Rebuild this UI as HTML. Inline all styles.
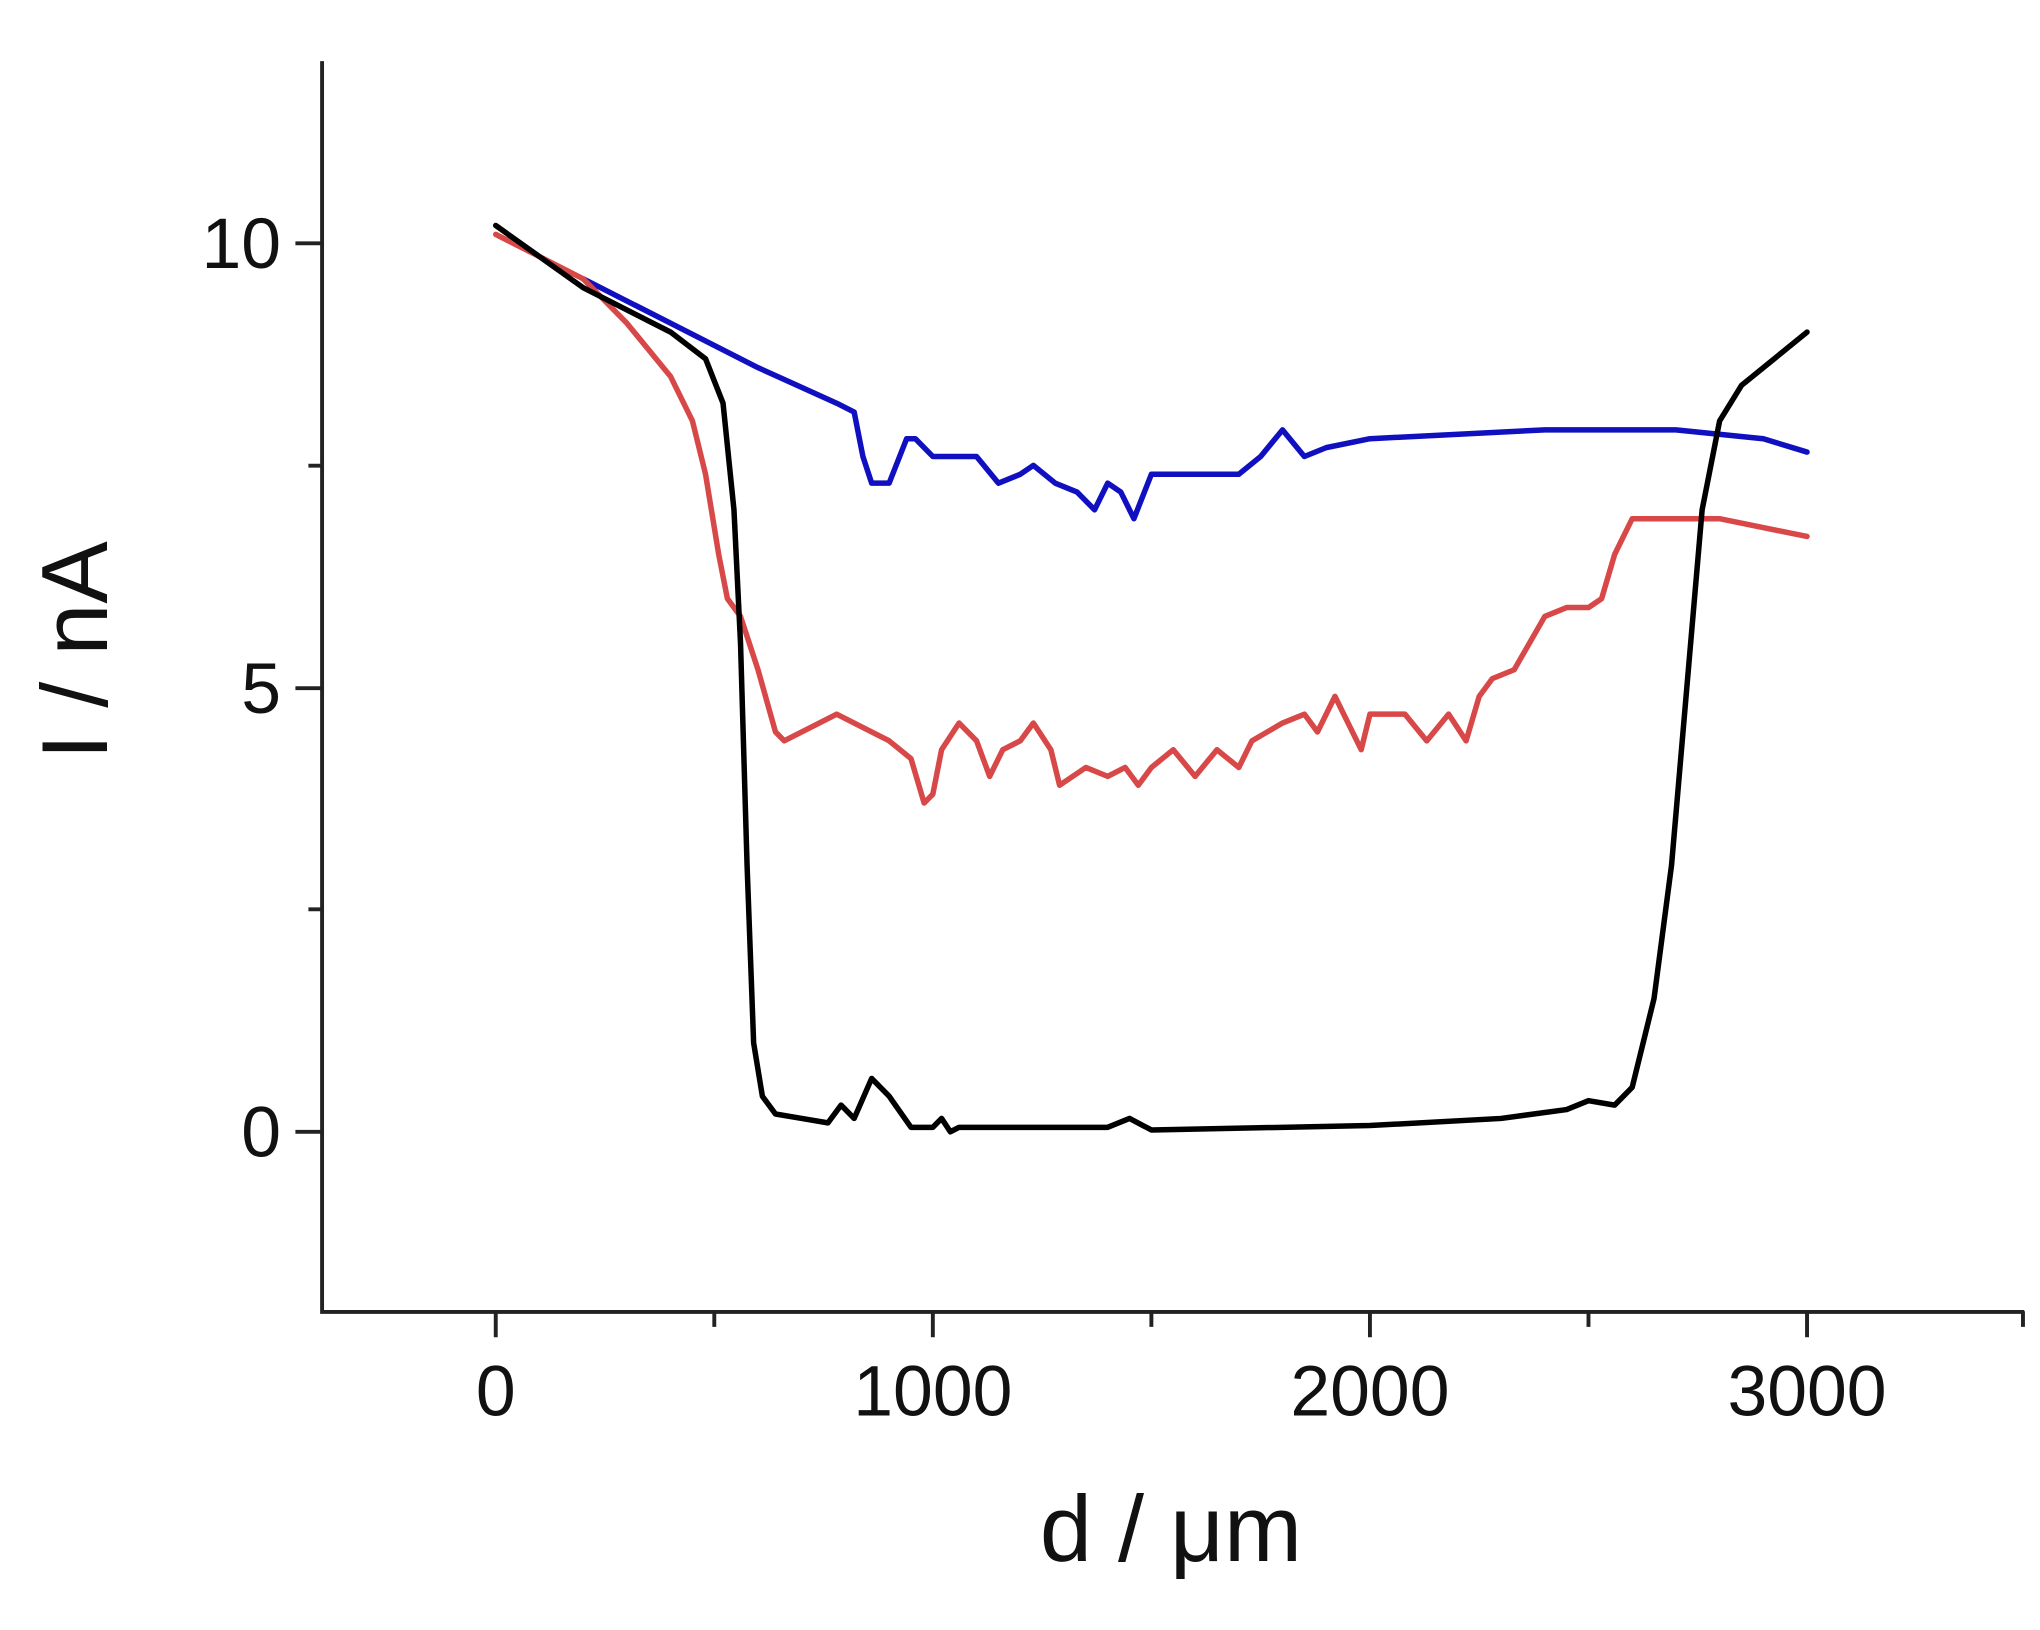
<!DOCTYPE html>
<html><head><meta charset="utf-8"><style>html,body{margin:0;padding:0;background:#fff}svg{display:block}</style></head>
<body>
<svg width="2040" height="1630" viewBox="0 0 1568 1253" xmlns="http://www.w3.org/2000/svg" font-family="Liberation Sans, Arial, sans-serif">
<rect width="1568" height="1253" fill="#fff"/>
<g stroke="#222" stroke-width="3" fill="none">
<path d="M247.5 47 V1008.5 H1556"/>
<path d="M381 1008 v20 M717 1008 v20 M1053 1008 v20 M1389 1008 v20 M549 1008 v12 M885 1008 v12 M1221 1008 v12 M1555 1008 v12"/>
<path d="M247 187 h-20 M247 529 h-20 M247 870 h-20 M247 358 h-10 M247 699 h-10"/>
</g>
<g font-size="55" fill="#111" text-anchor="middle">
<text x="381" y="1088">0</text>
<text x="717" y="1088">1000</text>
<text x="1053" y="1088">2000</text>
<text x="1389" y="1088">3000</text>
<text x="216" y="206" text-anchor="end">10</text>
<text x="216" y="548" text-anchor="end">5</text>
<text x="216" y="889" text-anchor="end">0</text>
<text x="900" y="1200" font-size="72">d / μm</text>
<text transform="translate(82,500) rotate(-90)" font-size="72">I / nA</text>
</g>
<g transform="translate(381,870) scale(0.336,-68.3)" fill="none" stroke-width="5.5" stroke-linejoin="round" stroke-linecap="round">
<polyline vector-effect="non-scaling-stroke" stroke="#1010c0" points="200,9.6 400,9.1 600,8.6 780,8.2 820,8.1 840,7.6 860,7.3 900,7.3 940,7.8 960,7.8 1000,7.6 1100,7.6 1150,7.3 1200,7.4 1230,7.5 1280,7.3 1330,7.2 1370,7.0 1400,7.3 1430,7.2 1460,6.9 1500,7.4 1700,7.4 1750,7.6 1800,7.9 1850,7.6 1900,7.7 2000,7.8 2400,7.9 2700,7.9 2900,7.8 3000,7.65"/>
<polyline vector-effect="non-scaling-stroke" stroke="#d84848" points="0,10.1 200,9.6 300,9.1 400,8.5 450,8.0 480,7.4 510,6.5 530,6.0 560,5.8 600,5.2 640,4.5 660,4.4 700,4.5 780,4.7 820,4.6 900,4.4 950,4.2 980,3.7 1000,3.8 1020,4.3 1060,4.6 1100,4.4 1130,4.0 1160,4.3 1200,4.4 1230,4.6 1270,4.3 1290,3.9 1350,4.1 1400,4.0 1440,4.1 1470,3.9 1500,4.1 1550,4.3 1600,4.0 1650,4.3 1700,4.1 1730,4.4 1800,4.6 1850,4.7 1880,4.5 1920,4.9 1950,4.6 1980,4.3 2000,4.7 2080,4.7 2130,4.4 2180,4.7 2220,4.4 2250,4.9 2280,5.1 2330,5.2 2400,5.8 2450,5.9 2500,5.9 2530,6.0 2560,6.5 2600,6.9 2700,6.9 2800,6.9 3000,6.7"/>
<polyline vector-effect="non-scaling-stroke" stroke="#000" points="0,10.2 200,9.5 400,9.0 480,8.7 520,8.2 545,7 560,5.5 575,3 590,1 610,0.4 640,0.2 700,0.15 760,0.1 790,0.3 820,0.15 860,0.6 900,0.4 950,0.05 1000,0.05 1020,0.15 1040,0 1060,0.05 1400,0.05 1450,0.15 1500,0.02 2000,0.07 2300,0.15 2450,0.25 2500,0.35 2560,0.3 2600,0.5 2650,1.5 2690,3 2725,5 2760,7 2800,8 2850,8.4 2950,8.8 3000,9.0"/>
</g>
</svg>
</body></html>
